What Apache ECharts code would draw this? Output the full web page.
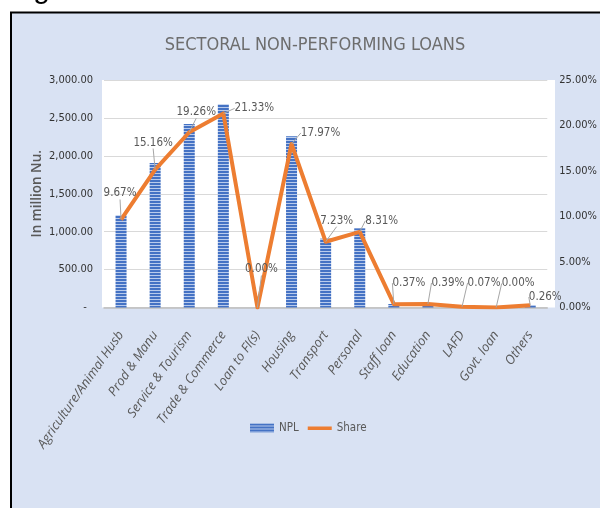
<!DOCTYPE html>
<html>
<head>
<meta charset="utf-8">
<script src="https://cdn.jsdelivr.net/npm/echarts@6/dist/echarts.min.js"></script>
<style>
  html, body { margin: 0; padding: 0; background: #ffffff; }
  #chart { width: 600px; height: 508px; }
</style>
</head>
<body>
<div id="chart"></div>
<script>
// Sectors on the category axis
const sectors = [
  'Agriculture/Animal Husb', 'Prod & Manu', 'Service & Tourism', 'Trade & Commerce',
  'Loan to FI(s)', 'Housing', 'Transport', 'Personal', 'Staff loan',
  'Education', 'LAFD', 'Govt. loan', 'Others'
];
// Non-performing loans, in million Nu.
const nplValues = [1215, 1905, 2420, 2680, 0, 2258, 908, 1044, 46, 49, 9, 0, 33];
// Share of total NPL, in percent
const shareValues = [9.67, 15.16, 19.26, 21.33, 0.00, 17.97, 7.23, 8.31, 0.37, 0.39, 0.07, 0.00, 0.26];
// Axis tick values
const nplTicks = [0, 500, 1000, 1500, 2000, 2500, 3000];
const shareTicks = [0, 5, 10, 15, 20, 25];

// Where each share label sits relative to its default spot (dx, dy in px)
const labelShift = [
  [-1, -15], [-2, -16], [7, -9], [31, 6], [4, -27], [29, 0], [11, -10],
  [22, 0], [15, -10], [20, -10], [22, -13], [22, -13], [15, 3]
];

// Narrow horizontal stripe fill for the bars
function stripePattern() {
  const c = document.createElement('canvas');
  c.width = 4; c.height = 3;
  const g = c.getContext('2d');
  g.fillStyle = '#4472c4';
  g.fillRect(0, 0, 4, 2);
  g.fillStyle = '#b9cbec';
  g.fillRect(0, 2, 4, 1);
  return c;
}
const stripes = { image: stripePattern(), repeat: 'repeat' };

const numFont = 'DejaVu Sans Condensed';
const fmtNpl = v => v === 0 ? '-  ' :
  v.toLocaleString('en-US', { minimumFractionDigits: 2, maximumFractionDigits: 2 });

// Thin bar-shaped legend mark for the line series, kept inside a 24x9 box
const lineIcon = 'path://M0,0L0,0M0,3L24,3L24,6.5L0,6.5ZM24,9L24,9';

const chart = echarts.init(document.getElementById('chart'), null, { renderer: 'canvas' });
chart.setOption({
  animation: false,
  backgroundColor: '#ffffff',
  graphic: [
    {
      type: 'rect', z: -10, silent: true,
      shape: { x: 11, y: 12.5, width: 620, height: 520 },
      style: { fill: '#d9e2f3', stroke: '#000000', lineWidth: 2 }
    },
    {
      type: 'rect', z: -9, silent: true,
      shape: { x: 102, y: 80, width: 453, height: 227.5 },
      style: { fill: '#ffffff' }
    },
    {
      type: 'text', z: 5, silent: true,
      style: {
        text: 'g', x: 41.5, y: -10, align: 'center', verticalAlign: 'middle',
        font: '30px "Liberation Sans"', fill: '#000000'
      }
    }
  ],
  title: {
    text: 'SECTORAL NON-PERFORMING LOANS',
    left: 310, top: 31, textAlign: 'center',
    textStyle: { fontFamily: numFont, fontSize: 18, fontWeight: 'normal', color: '#6d6d6d' }
  },
  legend: {
    left: 245, top: 417,
    itemWidth: 24, itemHeight: 9, itemGap: 9,
    textStyle: { fontFamily: numFont, fontSize: 11.5, color: '#595959' },
    data: [{ name: 'NPL', icon: 'rect' }, { name: 'Share', icon: lineIcon }]
  },
  grid: { left: 104, right: 45, top: 80, bottom: 200.5, containLabel: false },
  xAxis: {
    type: 'category',
    data: sectors,
    axisTick: { show: false },
    axisLine: { lineStyle: { color: '#bfbfbf', width: 1.5 } },
    axisLabel: {
      interval: 0, rotate: 55, margin: 25,
      fontFamily: 'Open Sans', fontStyle: 'italic', fontSize: 13, color: '#595959'
    }
  },
  yAxis: [
    {
      type: 'value', min: nplTicks[0], max: nplTicks[nplTicks.length - 1], interval: 500,
      name: 'In million Nu.', nameLocation: 'middle', nameGap: 60, nameRotate: 90,
      nameMoveOverlap: false,
      nameTextStyle: { fontFamily: 'Open Sans', fontSize: 13.5, fontWeight: 600, color: '#595959' },
      axisLine: { show: false }, axisTick: { show: false },
      splitLine: { lineStyle: { color: '#d9d9d9', width: 1 } },
      axisLabel: { formatter: fmtNpl, margin: 11, fontFamily: numFont, fontSize: 11, color: '#333333' }
    },
    {
      type: 'value', min: shareTicks[0], max: shareTicks[shareTicks.length - 1], interval: 5,
      axisLine: { show: false }, axisTick: { show: false }, splitLine: { show: false },
      axisLabel: {
        formatter: v => v.toFixed(2) + '%', margin: 12,
        fontFamily: numFont, fontSize: 11, color: '#333333'
      }
    }
  ],
  series: [
    {
      name: 'NPL', type: 'bar', yAxisIndex: 0,
      data: nplValues, barWidth: 11,
      itemStyle: { color: stripes }
    },
    {
      name: 'Share', type: 'line', yAxisIndex: 1,
      data: shareValues, symbol: 'circle', symbolSize: 0.01, showSymbol: true, z: 3,
      lineStyle: { color: '#ed7d31', width: 4, join: 'round' },
      itemStyle: { color: '#ed7d31' },
      label: {
        show: true, position: 'top', distance: 5,
        formatter: p => p.value.toFixed(2) + '%',
        fontFamily: numFont, fontSize: 11.5, color: '#595959'
      },
      labelLine: { show: true, lineStyle: { color: '#a6a6a6', width: 1 } },
      labelLayout: p => ({ dx: labelShift[p.dataIndex][0], dy: labelShift[p.dataIndex][1] })
    }
  ]
});
</script>
</body>
</html>
